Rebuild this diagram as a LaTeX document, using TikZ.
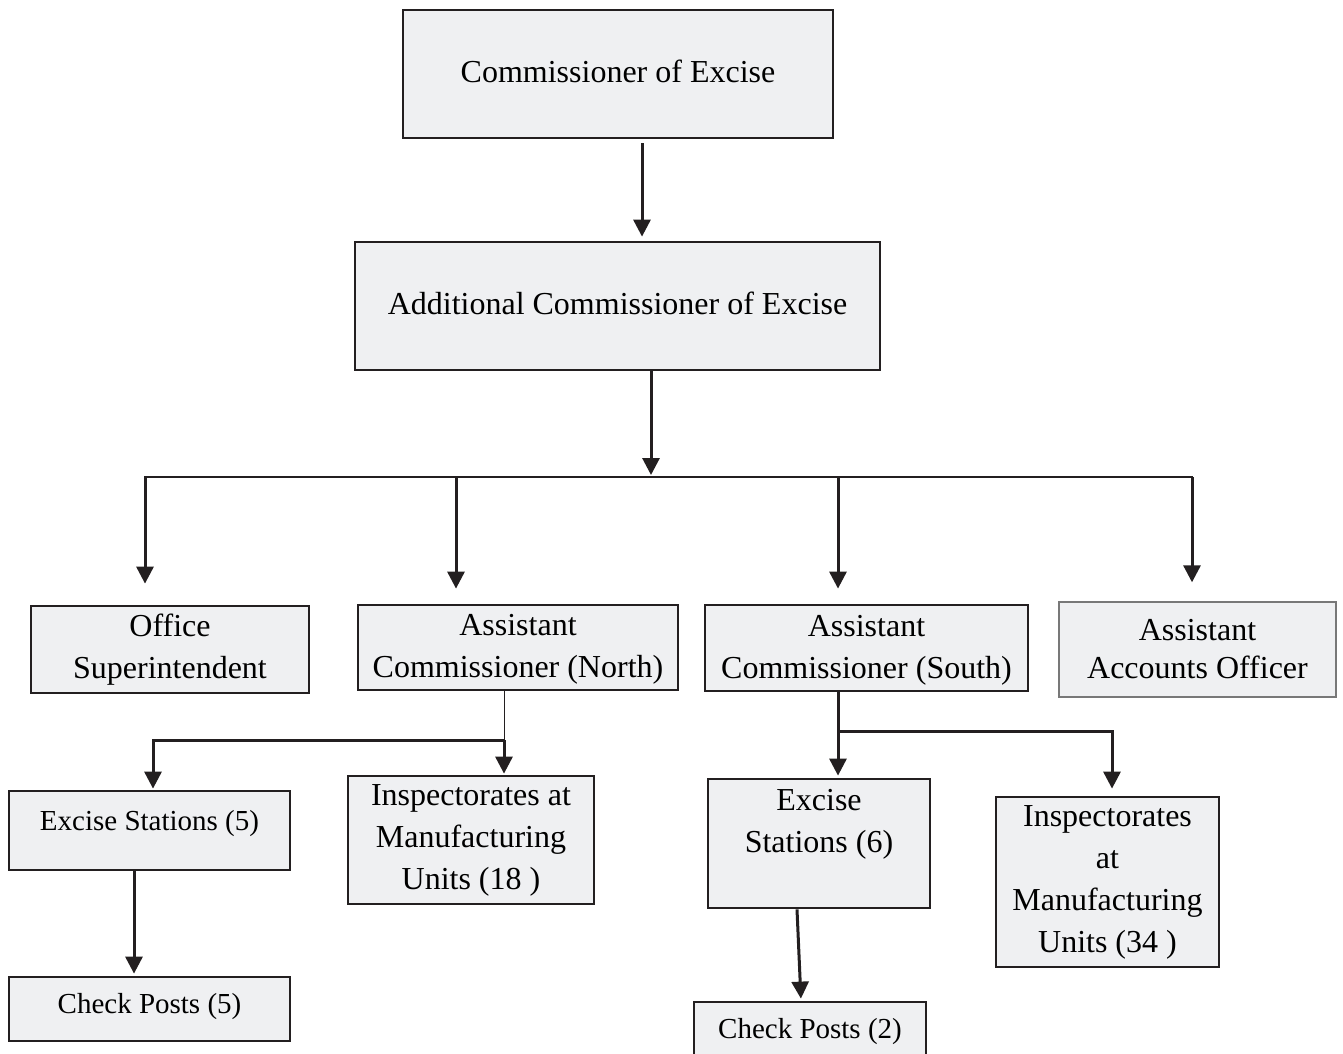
\documentclass[tikz,border=0pt]{standalone}
\usepackage{fontspec}
\setmainfont{Liberation Serif}
\usetikzlibrary{arrows.meta}
\definecolor{boxfill}{RGB}{239,240,242}
\definecolor{boxline}{RGB}{35,31,32}
\definecolor{softline}{RGB}{120,120,120}
\tikzset{
x=1pt, y=-1pt,
>={Triangle[length=17pt,width=17pt]},
every node/.style={font=\fontsize{32pt}{42pt}\selectfont, align=center, inner sep=0pt},
box/.style={draw=boxline, line width=2.8pt, fill=boxfill},
smallbox/.style={box, font=\fontsize{29pt}{40pt}\selectfont},
arr/.style={->, draw=boxline, line width=3pt, line join=miter},
bus/.style={draw=boxline, line width=2.2pt, line cap=rect},
link/.style={draw=boxline, line width=1pt},
}

\begin{document}
\begin{tikzpicture}
        \path[use as bounding box] (0,0) rectangle (1343,1053);
        \clip (0,0) rectangle (1343,1053);

        \node[box, minimum width=430pt, minimum height=128pt, text height=22pt, text depth=6pt] (com) at (618,74) {Commissioner of Excise};
        \node[box, minimum width=525pt, minimum height=128pt, text height=22pt, text depth=6pt] (adc) at (617.5,306) {Additional Commissioner of Excise};

        \node[box, minimum width=278pt, minimum height=87pt] (os) at (170,649.5) {Office\\Superintendent};
        \node[box, minimum width=320pt, minimum height=85pt, text height=64pt, text depth=4pt] (acn) at (518,647.5) {Assistant\\Commissioner (North)};
        \node[box, minimum width=323pt, minimum height=86pt, text height=64pt, text depth=4pt] (acs) at (866.5,648) {Assistant\\Commissioner (South)};
        \node[box, draw=softline, line width=1.4pt, minimum width=277pt, minimum height=95pt,
              font=\fontsize{32pt}{38pt}\selectfont] (aao) at (1197.5,649.5) {Assistant\\Accounts Officer};

        \node[smallbox, minimum width=281pt, minimum height=79pt, text height=20pt, text depth=20pt] (es5) at (149.5,830.5) {Excise Stations (5)};
        \node[box, minimum width=246pt, minimum height=128pt] (in18) at (471,840) {Inspectorates at\\Manufacturing\\Units (18 )};
        \node[smallbox, minimum width=281pt, minimum height=64pt, text height=24pt, text depth=15pt] (cp5) at (149.5,1009) {Check Posts (5)};

        \node[box, minimum width=222pt, minimum height=129pt, text height=64pt, text depth=46pt] (es6) at (819,843.5) {Excise\\Stations (6)};
        \node[box, minimum width=223pt, minimum height=170pt] (in34) at (1107.5,882) {Inspectorates\\at\\Manufacturing\\Units (34 )};
        \node[smallbox, minimum width=232pt, minimum height=64pt, text height=24pt, text depth=15pt] (cp2) at (810,1034) {Check Posts (2)};

        \coordinate (c-top) at (651,477);
        \coordinate (c-os) at (145,477);
        \coordinate (c-acn) at (456,477);
        \coordinate (c-acs) at (838,477);
        \coordinate (c-aao) at (1192,477);
        \coordinate (c-north) at (504,740);
        \coordinate (c-es5) at (153,740);
        \coordinate (c-south) at (838,731);
        \coordinate (c-in34) at (1112,731);

        \draw[arr, shorten <=4pt, shorten >=4pt] ([xshift=24pt]com.south) -- ([xshift=24pt]com.south |- adc.north);
        \draw[arr, shorten >=2pt] ([xshift=33.5pt]adc.south) -- (c-top);

        \draw[bus] (c-os) -- (c-aao);
        \draw[arr, shorten >=21pt] (c-os) -- (c-os |- os.north);
        \draw[arr, shorten >=15pt] (c-acn) -- (c-acn |- acn.north);
        \draw[arr, shorten >=15pt] (c-acs) -- (c-acs |- acs.north);
        \draw[arr, shorten >=19pt] (c-aao) -- (c-aao |- aao.north);

        \draw[link] (c-north |- acn.south) -- (c-north);
        \draw[arr, shorten >=1pt] (c-north) -- (c-es5) -- (c-es5 |- es5.north);
        \draw[arr, shorten >=1pt] (c-north) -- (c-north |- in18.north);
        \draw[arr, shorten >=2pt] ([xshift=-15.5pt]es5.south) -- ([xshift=-15.5pt]cp5.north);

        \draw[arr, shorten >=2pt] (c-south |- acs.south) -- (c-south |- es6.north);
        \draw[arr, shorten >=7pt] (c-south) -- (c-in34) -- (c-in34 |- in34.north);
        \draw[arr, shorten >=2pt] ([xshift=-22pt]es6.south) -- ([xshift=-9pt]cp2.north);
\end{tikzpicture}
\end{document}
